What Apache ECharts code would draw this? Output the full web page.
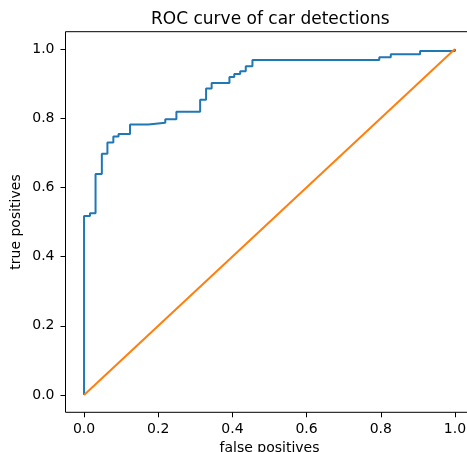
<!DOCTYPE html>
<html>
<head>
<meta charset="utf-8">
<script src="https://cdn.jsdelivr.net/npm/echarts@6/dist/echarts.min.js"></script>
<style>
 html,body{margin:0;padding:0;background:#fff;}
 #chart{width:467px;height:452px;}
</style>
</head>
<body>
<div id="chart"></div>
<script>
// ROC-кривая: точки углов ступенек (как отдаёт roc_curve)
var fpr=[0,0,0.016,0.016,0.031,0.031,0.048,0.048,0.063,0.063,0.079,0.079,0.093,0.093,
 0.124,0.124,0.173,0.173,0.219,0.219,0.249,0.249,0.313,0.313,0.329,0.329,0.344,0.344,
 0.392,0.392,0.405,0.405,0.421,0.421,0.436,0.436,0.454,0.454,0.796,0.796,0.827,0.827,
 0.906,0.906,1.0,1.0];
var tpr=[0,0.517,0.517,0.525,0.525,0.639,0.639,0.697,0.697,0.730,0.730,0.747,0.747,0.754,
 0.754,0.782,0.782,0.787,0.787,0.797,0.797,0.819,0.819,0.853,0.853,0.886,0.886,0.902,
 0.902,0.919,0.919,0.928,0.928,0.936,0.936,0.950,0.950,0.968,0.968,0.976,0.976,0.985,
 0.985,0.994,0.994,1.0];
// диагональ случайного классификатора
var diagX=[0,1];
var diagY=[0,1];
var ticks=[0,0.2,0.4,0.6,0.8,1.0];

var FONT='DejaVu Sans';
var ink='#000';

function pairs(xs,ys){return xs.map(function(x,i){return [x,ys[i]];});}

var axisBase={
 type:'value',min:-0.05,max:1.05,
 axisLine:{show:false,onZero:false},
 axisTick:{show:true,customValues:ticks,length:5,lineStyle:{color:ink,width:1}},
 axisLabel:{customValues:ticks,color:ink,fontSize:14,fontFamily:FONT,
  formatter:function(v){return v.toFixed(1);}},
 splitLine:{show:false},
 nameLocation:'middle',
 nameMoveOverlap:false,
 nameTextStyle:{color:ink,fontSize:14,fontFamily:FONT}
};

var chart=echarts.init(document.getElementById('chart'),null,{renderer:'canvas'});
chart.setOption({
 animation:false,
 backgroundColor:'#fff',
 title:{text:'ROC curve of car detections',left:146,top:6,
  textStyle:{fontFamily:FONT,fontSize:17,fontWeight:'normal',color:ink}},
 grid:{left:65.5,top:31.7,width:408,height:380.6,show:true,
  outerBoundsMode:'none',containLabel:false,
  borderColor:ink,borderWidth:1,backgroundColor:'#fff'},
 xAxis:Object.assign({},axisBase,{name:'false positives',nameGap:29,
  axisLabel:Object.assign({},axisBase.axisLabel,{margin:10})}),
 yAxis:Object.assign({},axisBase,{name:'true positives',nameGap:42,
  axisLabel:Object.assign({},axisBase.axisLabel,{margin:11})}),
 series:[
  {type:'line',data:pairs(fpr,tpr),showSymbol:false,
   lineStyle:{color:'#1f77b4',width:2},itemStyle:{color:'#1f77b4'}},
  {type:'line',data:pairs(diagX,diagY),showSymbol:false,
   lineStyle:{color:'#ff7f0e',width:2},itemStyle:{color:'#ff7f0e'}}
 ]
});
</script>
</body>
</html>
